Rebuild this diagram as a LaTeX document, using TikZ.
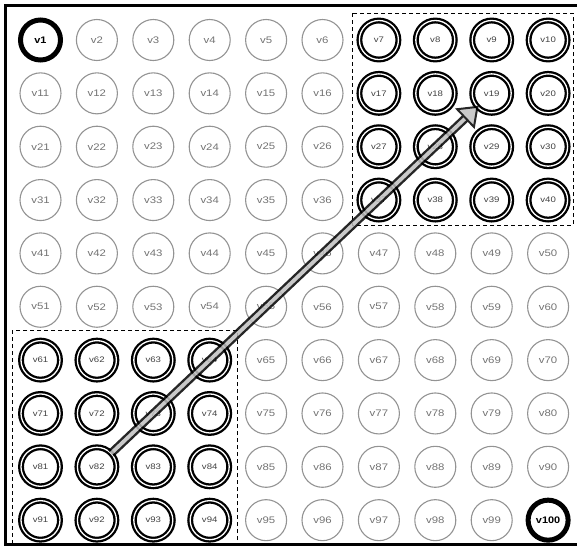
\documentclass[tikz,border=0pt]{standalone}
\usepackage{fontspec}
\setmainfont{Liberation Sans}
\newfontfamily\wfont[FakeStretch=1.2]{Liberation Sans}
\newfontfamily\wbfont[FakeStretch=1.15]{Liberation Sans Bold}
\usetikzlibrary{arrows.meta}
\begin{document}
\begin{tikzpicture}[x=1pt,y=-1pt,
  base/.style={circle, inner sep=0pt, outer sep=0pt},
  gnode/.style={base, minimum size=41pt, draw=gray!85, line width=1.1pt, text=black!55, font=\wfont\fontsize{9.5}{10}\selectfont},
  dnode/.style={base, minimum size=39pt, draw=black, line width=2.3pt, double=white, double distance=1.3pt, text=black!75, font=\wfont\fontsize{8}{9}\selectfont},
  bnode/.style={base, minimum size=40pt, draw=black, line width=5pt, text=black, font=\wbfont\fontsize{9.5}{10}\selectfont},
  frame/.style={line width=2.6pt, draw=black},
  group/.style={draw=black, line width=0.9pt, dash pattern=on 4pt off 3pt},
  arr/.style={draw=black, line width=2.4pt, double=gray!50, double distance=3.8pt, shorten >=-1.5pt,
    -{Triangle[length=19pt, width=28pt, fill=gray!50, line width=2pt]}}]
\useasboundingbox (0,0) rectangle (577,547);
\draw[frame] (580,5.3) -- (5.3,5.3) -- (5.3,544.7) -- (580,544.7);
\draw[group] (352,13) rectangle (573,225);
\draw[group] (12,330) rectangle (237,543);
\foreach \r in {0,...,9}{
  \foreach \c in {0,...,9}{
    \pgfmathtruncatemacro\n{10*\r+\c+1}
    \def\sty{gnode}
    \ifnum\c>5 \ifnum\r<4 \def\sty{dnode}\fi\fi
    \ifnum\c<4 \ifnum\r>5 \def\sty{dnode}\fi\fi
    \ifnum\n=1 \def\sty{bnode}\fi
    \ifnum\n=100 \def\sty{bnode}\fi
    \node[\sty] (v\n) at ({40.5+56.4*\c},{40+53.35*\r}) {v\n};
  }
}
\begin{scope}[transparency group, opacity=0.85]
\draw[arr] (v82) -- (v19);
\end{scope}
\end{tikzpicture}
\end{document}
